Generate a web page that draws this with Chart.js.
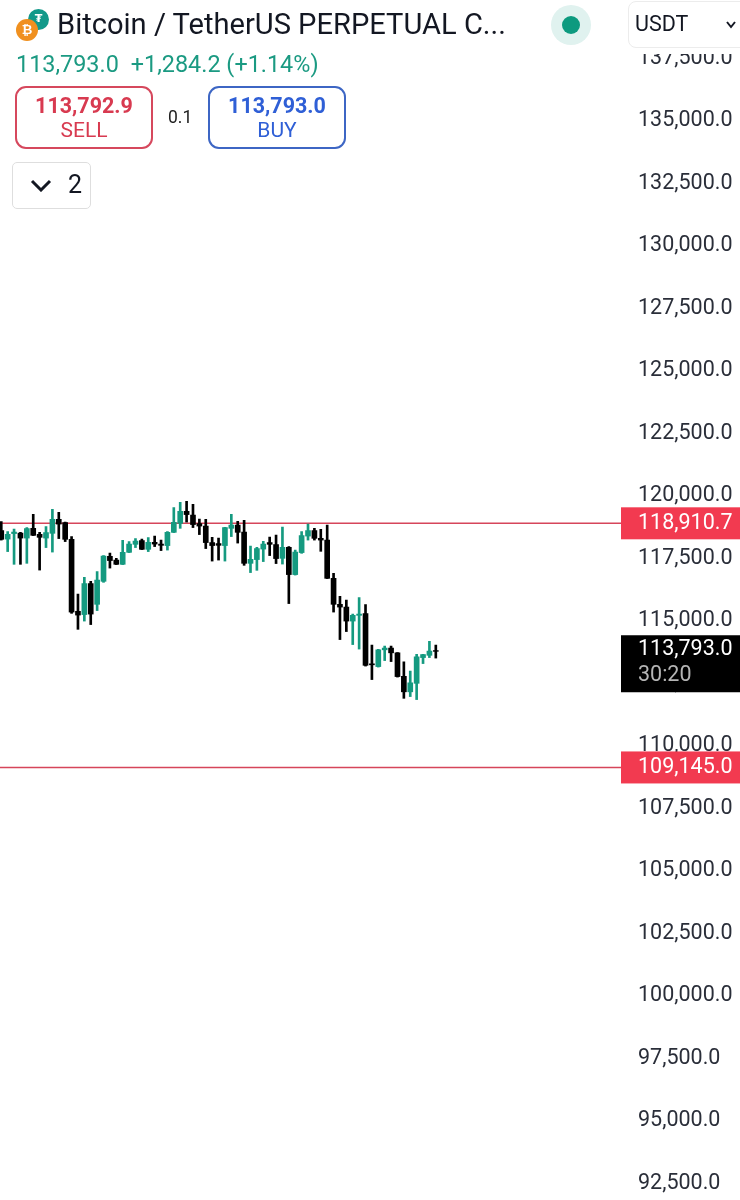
<!DOCTYPE html>
<html>
<head>
<meta charset="utf-8">
<title>Bitcoin / TetherUS PERPETUAL</title>
<script src="https://cdn.jsdelivr.net/npm/chart.js@4/dist/chart.umd.min.js"></script>
<style>
  html, body { margin: 0; padding: 0; background: #fff; }
  body { width: 740px; height: 1200px; position: relative; overflow: hidden; font-family: Roboto, sans-serif; color: #131722; }
  canvas { position: absolute; left: 0; top: 0; }
  .abs { position: absolute; white-space: nowrap; }
  .title { left: 57px; top: 7px; font-size: 29.1px; line-height: 34px; }
  .price { left: 16px; top: 50px; font-size: 23.4px; line-height: 28px; color: #1b9a82; }
  .price span { margin-left: 12px; }
  .btn { top: 86px; width: 134px; height: 59px; border: 2px solid; border-radius: 11px; text-align: center; }
  .btn b { display: block; font-size: 21.5px; line-height: 24px; margin-top: 6px; font-weight: 700; }
  .btn i { display: block; font-style: normal; font-size: 21px; line-height: 24px; }
  .sell { left: 15px; border-color: #d6485d; color: #d83a50; }
  .buy { left: 208px; border-color: #3d66c4; color: #2f5fd6; }
  .spread { left: 168px; top: 107px; font-size: 17.5px; line-height: 20px; color: #222; }
  .count { left: 12px; top: 162px; width: 77px; height: 45px; border: 1.5px solid #dedede; border-radius: 5px; }
  .count span { position: absolute; left: 55px; top: 7px; font-size: 25px; line-height: 30px; }
  .count svg { position: absolute; left: 17px; top: 16px; }
  .dot-halo { left: 551px; top: 5px; width: 40px; height: 40px; border-radius: 50%; background: #e0f2ef; }
  .dot { left: 562px; top: 16px; width: 18px; height: 18px; border-radius: 50%; background: #0d9a7f; }
  .cover { left: 621px; top: 0; width: 119px; height: 54px; background: #fff; }
  .unit { left: 628px; top: 1px; width: 120px; height: 45px; border: 1.5px solid #ececec; border-radius: 8px; background: #fff; }
  .unit span { position: absolute; left: 6px; top: 7px; font-size: 21.5px; line-height: 30px; }
  .unit svg { position: absolute; left: 97px; top: 19px; }
  .coin { border-radius: 50%; text-align: center; color: #fff; font-family: "DejaVu Sans", sans-serif; font-weight: 700; }
  .coin-usdt { left: 28px; top: 9px; width: 21px; height: 21px; background: #12998a; font-size: 11px; line-height: 20px; }
  .coin-btc { left: 16px; top: 19px; width: 22px; height: 22px; background: #f0901f; font-size: 13px; line-height: 22px; }
</style>
</head>
<body>
<canvas id="chart" width="740" height="1200"></canvas>

<div class="abs coin coin-usdt">₮</div>
<div class="abs coin coin-btc">₿</div>
<div class="abs title">Bitcoin / TetherUS PERPETUAL C...</div>
<div class="abs price">113,793.0<span>+1,284.2 (+1.14%)</span></div>
<div class="abs btn sell"><b>113,792.9</b><i>SELL</i></div>
<div class="abs spread">0.1</div>
<div class="abs btn buy"><b>113,793.0</b><i>BUY</i></div>
<div class="abs count">
  <svg width="22" height="13" viewBox="0 0 22 13"><path d="M2 2 L11 11 L20 2" fill="none" stroke="#131722" stroke-width="3"/></svg>
  <span>2</span>
</div>
<div class="abs dot-halo"></div>
<div class="abs dot"></div>
<div class="abs cover"></div>
<div class="abs unit">
  <span>USDT</span>
  <svg width="10" height="8" viewBox="0 0 10 8"><path d="M1 1 L5 6 L9 1" fill="none" stroke="#131722" stroke-width="2"/></svg>
</div>

<script>
const candleIndex = [0,1,2,3,4,5,6,7,8,9,10,11,12,13,14,15,16,17,18,19,20,21,22,23,24,25,26,27,28,29,30,31,32,33,34,
  35,36,37,38,39,40,41,42,43,44,45,46,47,48,49,50,51,52,53,54,55,56,57,58,59,60,61,62,63,64,65,66,67,68];

const opens = [118620,118280,118500,118520,118320,118710,118470,118320,118510,119070,118940,118270,115390,115260,116500,115670,116590,117590,117440,117270,
  117750,118070,118220,117870,118150,118080,118020,118550,118910,119390,119240,118900,118800,118140,118100,118020,118710,118840,118560,117310,
  117460,117880,118140,118060,117510,117950,116860,117740,118400,118620,118310,118240,116710,115670,115560,115000,115230,115300,113290,113180,
  113850,113920,113730,112790,112170,112510,113540,113630,113820];
const closes = [118270,118470,118560,118320,118700,118430,118350,118540,119070,118880,118270,115360,115240,116500,115280,116640,117600,117420,117270,117750,
  118080,118200,117870,118150,118080,118030,118550,118950,119390,119260,118860,118800,118140,118020,118030,118740,118840,118550,117310,117470,
  117900,118080,118070,117500,117950,116860,117760,118420,118620,118310,118240,116710,115670,115560,115000,115230,115280,113230,113250,113850,
  113920,113730,112780,112170,112530,113570,113660,113800,113790];
const highs = [118980,118580,118680,118550,118740,119270,118550,118780,119470,119350,118960,118380,116080,116750,116590,116980,117620,117720,117510,118230,
  118180,118300,118280,118340,118400,118240,118580,119540,119750,119790,119670,119080,119070,118350,118320,118750,119270,118990,119030,118000,
  117950,118190,118360,118440,118760,117980,117840,118580,118880,118710,118670,118840,116910,115990,115840,115280,115940,115660,114040,113870,
  114000,114000,113740,113370,113000,113670,113670,114190,114040];
const lows = [118240,117780,117270,117270,117310,118420,117040,117940,117760,118300,118180,115310,114670,115000,114860,115420,116550,117120,117260,117260,
  117740,117940,117860,117780,117980,117820,117840,118540,118710,118960,118740,118460,117900,117400,117440,117400,118380,118120,117230,116940,
  117030,117380,117620,117300,117280,115700,116840,117710,118240,118240,117790,116700,115360,114260,114580,114060,113880,113200,112660,113160,
  113420,113380,112760,111910,111980,111860,113300,113540,113520];

const tickValues = [137500,135000,132500,130000,127500,125000,122500,120000,117500,115000,112500,110000,107500,105000,102500,100000,97500,95000,92500];
const resistance = 118910.7;
const support = 109145.0;
const lastPrice = 113793.0;
const countdown = '30:20';

const GREEN = '#159a80';
const BLACK = '#000000';
const LINE_RED = '#d6455a';
const TAG_RED = '#f23a50';

function fmt(v) {
  return v.toLocaleString('en-US', { minimumFractionDigits: 1, maximumFractionDigits: 1 });
}

const candleColors = candleIndex.map((_, i) => closes[i] >= opens[i] ? GREEN : BLACK);
const xMax = 96.98;

// 오른쪽 가격 태그
const priceTags = {
  id: 'priceTags',
  afterDraw(chart) {
    const ctx = chart.ctx;
    const y = chart.scales.y;
    ctx.save();
    ctx.textBaseline = 'middle';
    ctx.textAlign = 'left';
    ctx.font = '21.5px Roboto';

    [resistance, support].forEach(v => {
      const py = y.getPixelForValue(v);
      ctx.fillStyle = TAG_RED;
      ctx.fillRect(621, py - 16, 119, 32);
      ctx.fillStyle = '#fff';
      ctx.fillText(fmt(v), 638, py);
    });

    const py = y.getPixelForValue(lastPrice);
    ctx.fillStyle = '#000';
    ctx.fillRect(621, py - 16, 119, 57);
    ctx.fillStyle = '#fff';
    ctx.fillText(fmt(lastPrice), 638, py - 2);
    ctx.fillStyle = '#b5b5b5';
    ctx.fillText(countdown, 638, py + 24);
    ctx.restore();
  }
};

function levelLine(v) {
  return {
    type: 'line',
    data: [{ x: -1, y: v }, { x: xMax, y: v }],
    borderColor: LINE_RED,
    borderWidth: 1.5,
    pointRadius: 0,
    order: 3
  };
}

new Chart(document.getElementById('chart'), {
  type: 'bar',
  data: {
    datasets: [
      levelLine(resistance),
      levelLine(support),
      {
        data: candleIndex.map((x, i) => ({ x: x, y: [lows[i], highs[i]] })),
        backgroundColor: candleColors,
        barThickness: 2,
        grouped: false,
        order: 2
      },
      {
        data: candleIndex.map((x, i) => ({ x: x, y: [opens[i], closes[i]] })),
        backgroundColor: candleColors,
        barThickness: 5,
        grouped: false,
        order: 1
      }
    ]
  },
  options: {
    responsive: false,
    animation: false,
    layout: { padding: 0 },
    plugins: { legend: { display: false }, tooltip: { enabled: false } },
    scales: {
      x: { type: 'linear', display: false, min: -0.2, max: xMax, offset: false, grid: { display: false } },
      y: {
        position: 'right',
        min: 91843,
        max: 139843,
        border: { display: false },
        grid: { display: false, drawTicks: false },
        afterFit(axis) {
          axis.width = 119;
          axis.paddingTop = 0;
          axis.paddingBottom = 0;
        },
        afterBuildTicks(axis) { axis.ticks = tickValues.map(v => ({ value: v })); },
        ticks: {
          autoSkip: false,
          crossAlign: 'near',
          padding: 17,
          color: '#2a2e39',
          font: { family: 'Roboto', size: 21.5 },
          callback: v => fmt(v)
        }
      }
    }
  },
  plugins: [priceTags]
});
</script>
</body>
</html>
